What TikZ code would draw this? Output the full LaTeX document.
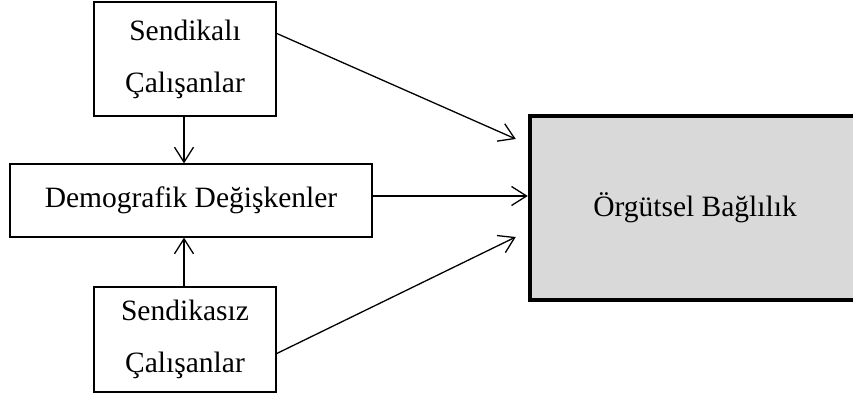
\documentclass[tikz,border=0pt]{standalone}
\usepackage{fontspec}
\setmainfont{Liberation Serif}
\usetikzlibrary{arrows.meta,calc}
\definecolor{boxgray}{HTML}{D9D9D9}
\tikzset{
  plainbox/.style={draw, line width=1.2pt, align=center, inner sep=0pt,
    font=\fontsize{29.5}{52}\selectfont},
  outbox/.style={draw, line width=4.5pt, fill=boxgray, inner sep=0pt,
    font=\fontsize{29.5}{36}\selectfont},
  arr/.style={line width=1.3pt, -{Straight Barb[length=15pt,width=19pt,line width=1.3pt]}}
}
\begin{document}
\begin{tikzpicture}[x=1pt,y=1pt]
  \useasboundingbox (0,0) rectangle (853,406);
  % boxes
  \node[plainbox, minimum width=182pt, minimum height=114pt] (top) at (185,347)
    {Sendikalı\\Çalışanlar};
  \node[plainbox, minimum width=362pt, minimum height=73pt] (mid) at (191,205.5)
    {Demografik Değişkenler};
  \node[plainbox, minimum width=182pt, minimum height=105pt] (bot) at (185,66.5)
    {Sendikasız\\Çalışanlar};
  \node[outbox, minimum width=330pt, minimum height=184pt] (out) at (695,198)
    {Örgütsel Bağlılık};
  % vertical connectors into the middle box
  \draw[arr] (top.south -| 184,0) -- (mid.north -| 184,0);
  \draw[arr] (bot.north -| 184,0) -- (mid.south -| 184,0);
  % connectors into the outcome box
  \draw[arr] ($(top.north east)+(0,-32)$) -- ($(out.west)+(-12,69)$);
  \draw[arr] (mid.east |- 0,210) -- (out.west |- 0,210);
  \draw[arr] ($(bot.south east)+(0,39)$) -- ($(out.west)+(-12,-29)$);
\end{tikzpicture}
\end{document}
